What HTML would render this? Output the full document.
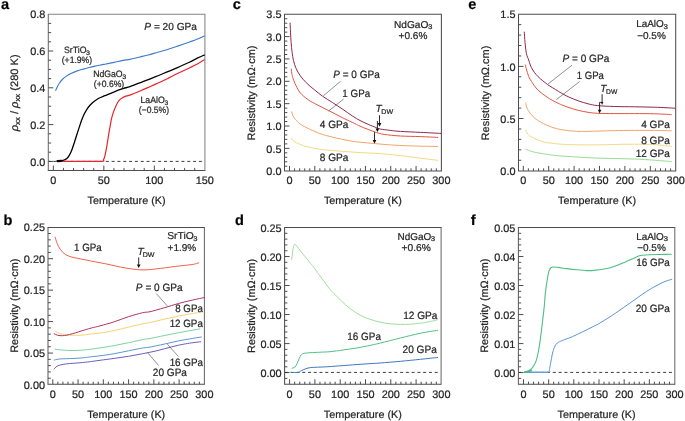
<!DOCTYPE html><html><head><meta charset="utf-8"><style>html,body{margin:0;padding:0;background:#fff}svg{display:block;will-change:transform}text{-webkit-font-smoothing:antialiased;stroke:#262626;stroke-width:.22px;stroke-linejoin:round}</style></head><body><svg xmlns="http://www.w3.org/2000/svg" width="685" height="421" viewBox="0 0 685 421" font-family='"Liberation Sans", sans-serif' fill="#262626" text-rendering="geometricPrecision">
<rect width="685" height="421" fill="#fff"/>
<path d="M47.80 14.20L205.40 14.20" stroke="#858585" stroke-width="1.05"/>
<path d="M47.80 170.50L205.40 170.50" stroke="#4d4d4d" stroke-width="1.05"/>
<path d="M48.30 14.20L48.30 170.50" stroke="#6a6a6a" stroke-width="1.05"/>
<path d="M204.90 14.20L204.90 170.50" stroke="#808080" stroke-width="1.05"/>
<path d="M63.45 170.50v-2.6M73.54 170.50v-2.6M83.64 170.50v-2.6M93.74 170.50v-2.6M113.93 170.50v-2.6M124.03 170.50v-2.6M134.13 170.50v-2.6M144.22 170.50v-2.6M164.42 170.50v-2.6M174.51 170.50v-2.6M184.61 170.50v-2.6M194.71 170.50v-2.6M53.35 170.50v-5M103.84 170.50v-5M154.32 170.50v-5M48.30 152.20h2.8M48.30 143.00h2.8M48.30 133.80h2.8M48.30 115.40h2.8M48.30 106.20h2.8M48.30 97.00h2.8M48.30 78.60h2.8M48.30 69.40h2.8M48.30 60.20h2.8M48.30 41.80h2.8M48.30 32.60h2.8M48.30 23.40h2.8M48.30 161.40h5M48.30 124.60h5M48.30 87.80h5M48.30 51.00h5" stroke="#4d4d4d" stroke-width="1" fill="none"/>
<text x="45.30" y="165.55" text-anchor="end" font-size="10.9">0.0</text>
<text x="45.30" y="128.75" text-anchor="end" font-size="10.9">0.2</text>
<text x="45.30" y="91.95" text-anchor="end" font-size="10.9">0.4</text>
<text x="45.30" y="55.15" text-anchor="end" font-size="10.9">0.6</text>
<text x="45.30" y="18.35" text-anchor="end" font-size="10.9">0.8</text>
<text x="53.35" y="184.00" text-anchor="middle" font-size="10.9">0</text>
<text x="103.84" y="184.00" text-anchor="middle" font-size="10.9">50</text>
<text x="154.32" y="184.00" text-anchor="middle" font-size="10.9">100</text>
<text x="204.81" y="184.00" text-anchor="middle" font-size="10.9">150</text>
<text x="126.60" y="204.00" text-anchor="middle" font-size="10.7" textLength="78" lengthAdjust="spacingAndGlyphs">Temperature (K)</text>
<path d="M47.50 227.40L204.90 227.40" stroke="#4d4d4d" stroke-width="1.05"/>
<path d="M47.50 384.30L204.90 384.30" stroke="#4d4d4d" stroke-width="1.05"/>
<path d="M48.00 227.40L48.00 384.30" stroke="#5e5e5e" stroke-width="1.05"/>
<path d="M204.40 227.40L204.40 384.30" stroke="#666666" stroke-width="1.05"/>
<path d="M57.85 384.30v-2.6M62.91 384.30v-2.6M67.96 384.30v-2.6M73.01 384.30v-2.6M83.12 384.30v-2.6M88.17 384.30v-2.6M93.22 384.30v-2.6M98.28 384.30v-2.6M108.38 384.30v-2.6M113.44 384.30v-2.6M118.49 384.30v-2.6M123.54 384.30v-2.6M133.65 384.30v-2.6M138.70 384.30v-2.6M143.75 384.30v-2.6M148.81 384.30v-2.6M158.91 384.30v-2.6M163.97 384.30v-2.6M169.02 384.30v-2.6M174.07 384.30v-2.6M184.18 384.30v-2.6M189.23 384.30v-2.6M194.28 384.30v-2.6M199.34 384.30v-2.6M52.80 384.30v-5M78.06 384.30v-5M103.33 384.30v-5M128.59 384.30v-5M153.86 384.30v-5M179.12 384.30v-5M48.00 378.21h2.8M48.00 371.92h2.8M48.00 365.63h2.8M48.00 359.34h2.8M48.00 346.76h2.8M48.00 340.47h2.8M48.00 334.18h2.8M48.00 327.89h2.8M48.00 315.31h2.8M48.00 309.02h2.8M48.00 302.73h2.8M48.00 296.44h2.8M48.00 283.86h2.8M48.00 277.57h2.8M48.00 271.28h2.8M48.00 264.99h2.8M48.00 252.41h2.8M48.00 246.12h2.8M48.00 239.83h2.8M48.00 233.54h2.8M48.00 353.05h5M48.00 321.60h5M48.00 290.15h5M48.00 258.70h5" stroke="#4d4d4d" stroke-width="1" fill="none"/>
<text x="45.00" y="388.65" text-anchor="end" font-size="10.9">0.00</text>
<text x="45.00" y="357.20" text-anchor="end" font-size="10.9">0.05</text>
<text x="45.00" y="325.75" text-anchor="end" font-size="10.9">0.10</text>
<text x="45.00" y="294.30" text-anchor="end" font-size="10.9">0.15</text>
<text x="45.00" y="262.85" text-anchor="end" font-size="10.9">0.20</text>
<text x="45.00" y="231.40" text-anchor="end" font-size="10.9">0.25</text>
<text x="52.80" y="397.60" text-anchor="middle" font-size="10.9">0</text>
<text x="78.06" y="397.60" text-anchor="middle" font-size="10.9">50</text>
<text x="103.33" y="397.60" text-anchor="middle" font-size="10.9">100</text>
<text x="128.59" y="397.60" text-anchor="middle" font-size="10.9">150</text>
<text x="153.86" y="397.60" text-anchor="middle" font-size="10.9">200</text>
<text x="179.12" y="397.60" text-anchor="middle" font-size="10.9">250</text>
<text x="204.39" y="397.60" text-anchor="middle" font-size="10.9">300</text>
<text x="126.20" y="417.60" text-anchor="middle" font-size="10.7" textLength="78" lengthAdjust="spacingAndGlyphs">Temperature (K)</text>
<path d="M284.00 14.20L441.90 14.20" stroke="#4d4d4d" stroke-width="1.05"/>
<path d="M284.00 170.95L441.90 170.95" stroke="#4d4d4d" stroke-width="1.05"/>
<path d="M284.50 14.20L284.50 170.95" stroke="#4d4d4d" stroke-width="1.05"/>
<path d="M441.40 14.20L441.40 170.95" stroke="#4d4d4d" stroke-width="1.05"/>
<path d="M294.56 170.95v-2.6M299.63 170.95v-2.6M304.69 170.95v-2.6M309.75 170.95v-2.6M319.88 170.95v-2.6M324.94 170.95v-2.6M330.00 170.95v-2.6M335.07 170.95v-2.6M345.19 170.95v-2.6M350.26 170.95v-2.6M355.32 170.95v-2.6M360.38 170.95v-2.6M370.51 170.95v-2.6M375.57 170.95v-2.6M380.63 170.95v-2.6M385.70 170.95v-2.6M395.82 170.95v-2.6M400.89 170.95v-2.6M405.95 170.95v-2.6M411.01 170.95v-2.6M421.14 170.95v-2.6M426.20 170.95v-2.6M431.26 170.95v-2.6M436.33 170.95v-2.6M289.50 170.95v-5M314.81 170.95v-5M340.13 170.95v-5M365.44 170.95v-5M390.76 170.95v-5M416.07 170.95v-5M284.50 166.23h2.8M284.50 161.76h2.8M284.50 157.29h2.8M284.50 152.82h2.8M284.50 143.88h2.8M284.50 139.41h2.8M284.50 134.94h2.8M284.50 130.47h2.8M284.50 121.53h2.8M284.50 117.06h2.8M284.50 112.59h2.8M284.50 108.12h2.8M284.50 99.18h2.8M284.50 94.71h2.8M284.50 90.24h2.8M284.50 85.77h2.8M284.50 76.83h2.8M284.50 72.36h2.8M284.50 67.89h2.8M284.50 63.42h2.8M284.50 54.48h2.8M284.50 50.01h2.8M284.50 45.54h2.8M284.50 41.07h2.8M284.50 32.13h2.8M284.50 27.66h2.8M284.50 23.19h2.8M284.50 18.72h2.8M284.50 148.35h5M284.50 126.00h5M284.50 103.65h5M284.50 81.30h5M284.50 58.95h5M284.50 36.60h5" stroke="#4d4d4d" stroke-width="1" fill="none"/>
<text x="281.50" y="174.85" text-anchor="end" font-size="10.9">0.0</text>
<text x="281.50" y="152.50" text-anchor="end" font-size="10.9">0.5</text>
<text x="281.50" y="130.15" text-anchor="end" font-size="10.9">1.0</text>
<text x="281.50" y="107.80" text-anchor="end" font-size="10.9">1.5</text>
<text x="281.50" y="85.45" text-anchor="end" font-size="10.9">2.0</text>
<text x="281.50" y="63.10" text-anchor="end" font-size="10.9">2.5</text>
<text x="281.50" y="40.75" text-anchor="end" font-size="10.9">3.0</text>
<text x="281.50" y="18.40" text-anchor="end" font-size="10.9">3.5</text>
<text x="289.50" y="184.00" text-anchor="middle" font-size="10.9">0</text>
<text x="314.81" y="184.00" text-anchor="middle" font-size="10.9">50</text>
<text x="340.13" y="184.00" text-anchor="middle" font-size="10.9">100</text>
<text x="365.44" y="184.00" text-anchor="middle" font-size="10.9">150</text>
<text x="390.76" y="184.00" text-anchor="middle" font-size="10.9">200</text>
<text x="416.07" y="184.00" text-anchor="middle" font-size="10.9">250</text>
<text x="441.39" y="184.00" text-anchor="middle" font-size="10.9">300</text>
<text x="362.95" y="204.00" text-anchor="middle" font-size="10.7" textLength="78" lengthAdjust="spacingAndGlyphs">Temperature (K)</text>
<path d="M284.10 227.50L441.60 227.50" stroke="#4d4d4d" stroke-width="1.05"/>
<path d="M284.10 384.30L441.60 384.30" stroke="#4d4d4d" stroke-width="1.05"/>
<path d="M284.60 227.50L284.60 384.30" stroke="#4d4d4d" stroke-width="1.05"/>
<path d="M441.10 227.50L441.10 384.30" stroke="#6a6a6a" stroke-width="1.05"/>
<path d="M294.66 384.30v-2.6M299.72 384.30v-2.6M304.78 384.30v-2.6M309.84 384.30v-2.6M319.96 384.30v-2.6M325.02 384.30v-2.6M330.08 384.30v-2.6M335.14 384.30v-2.6M345.26 384.30v-2.6M350.32 384.30v-2.6M355.38 384.30v-2.6M360.44 384.30v-2.6M370.56 384.30v-2.6M375.62 384.30v-2.6M380.68 384.30v-2.6M385.74 384.30v-2.6M395.86 384.30v-2.6M400.92 384.30v-2.6M405.98 384.30v-2.6M411.04 384.30v-2.6M421.16 384.30v-2.6M426.22 384.30v-2.6M431.28 384.30v-2.6M436.34 384.30v-2.6M289.60 384.30v-5M314.90 384.30v-5M340.20 384.30v-5M365.50 384.30v-5M390.80 384.30v-5M416.10 384.30v-5M284.60 378.40h2.8M284.60 366.80h2.8M284.60 360.99h2.8M284.60 355.19h2.8M284.60 349.38h2.8M284.60 337.78h2.8M284.60 331.97h2.8M284.60 326.17h2.8M284.60 320.36h2.8M284.60 308.76h2.8M284.60 302.95h2.8M284.60 297.15h2.8M284.60 291.34h2.8M284.60 279.74h2.8M284.60 273.93h2.8M284.60 268.13h2.8M284.60 262.32h2.8M284.60 250.72h2.8M284.60 244.91h2.8M284.60 239.11h2.8M284.60 233.30h2.8M284.60 372.60h5M284.60 343.58h5M284.60 314.56h5M284.60 285.54h5M284.60 256.52h5" stroke="#4d4d4d" stroke-width="1" fill="none"/>
<text x="281.60" y="376.75" text-anchor="end" font-size="10.9">0.00</text>
<text x="281.60" y="347.73" text-anchor="end" font-size="10.9">0.05</text>
<text x="281.60" y="318.71" text-anchor="end" font-size="10.9">0.10</text>
<text x="281.60" y="289.69" text-anchor="end" font-size="10.9">0.15</text>
<text x="281.60" y="260.67" text-anchor="end" font-size="10.9">0.20</text>
<text x="281.60" y="231.65" text-anchor="end" font-size="10.9">0.25</text>
<text x="289.60" y="397.60" text-anchor="middle" font-size="10.9">0</text>
<text x="314.90" y="397.60" text-anchor="middle" font-size="10.9">50</text>
<text x="340.20" y="397.60" text-anchor="middle" font-size="10.9">100</text>
<text x="365.50" y="397.60" text-anchor="middle" font-size="10.9">150</text>
<text x="390.80" y="397.60" text-anchor="middle" font-size="10.9">200</text>
<text x="416.10" y="397.60" text-anchor="middle" font-size="10.9">250</text>
<text x="441.40" y="397.60" text-anchor="middle" font-size="10.9">300</text>
<text x="362.85" y="417.60" text-anchor="middle" font-size="10.7" textLength="78" lengthAdjust="spacingAndGlyphs">Temperature (K)</text>
<path d="M518.00 14.20L676.20 14.20" stroke="#4d4d4d" stroke-width="1.05"/>
<path d="M518.00 170.95L676.20 170.95" stroke="#4d4d4d" stroke-width="1.05"/>
<path d="M518.50 14.20L518.50 170.95" stroke="#4d4d4d" stroke-width="1.05"/>
<path d="M675.70 14.20L675.70 170.95" stroke="#4d4d4d" stroke-width="1.05"/>
<path d="M528.38 170.95v-2.6M533.46 170.95v-2.6M538.54 170.95v-2.6M543.62 170.95v-2.6M553.78 170.95v-2.6M558.86 170.95v-2.6M563.94 170.95v-2.6M569.02 170.95v-2.6M579.18 170.95v-2.6M584.26 170.95v-2.6M589.34 170.95v-2.6M594.42 170.95v-2.6M604.58 170.95v-2.6M609.66 170.95v-2.6M614.74 170.95v-2.6M619.82 170.95v-2.6M629.98 170.95v-2.6M635.06 170.95v-2.6M640.14 170.95v-2.6M645.22 170.95v-2.6M655.38 170.95v-2.6M660.46 170.95v-2.6M665.54 170.95v-2.6M670.62 170.95v-2.6M523.30 170.95v-5M548.70 170.95v-5M574.10 170.95v-5M599.50 170.95v-5M624.90 170.95v-5M650.30 170.95v-5M518.50 160.27h2.8M518.50 149.83h2.8M518.50 139.40h2.8M518.50 128.97h2.8M518.50 108.10h2.8M518.50 97.67h2.8M518.50 87.24h2.8M518.50 76.80h2.8M518.50 55.94h2.8M518.50 45.50h2.8M518.50 35.07h2.8M518.50 24.64h2.8M518.50 118.53h5M518.50 66.37h5" stroke="#4d4d4d" stroke-width="1" fill="none"/>
<text x="515.50" y="174.85" text-anchor="end" font-size="10.9">0.0</text>
<text x="515.50" y="122.69" text-anchor="end" font-size="10.9">0.5</text>
<text x="515.50" y="70.52" text-anchor="end" font-size="10.9">1.0</text>
<text x="515.50" y="18.36" text-anchor="end" font-size="10.9">1.5</text>
<text x="523.30" y="184.00" text-anchor="middle" font-size="10.9">0</text>
<text x="548.70" y="184.00" text-anchor="middle" font-size="10.9">50</text>
<text x="574.10" y="184.00" text-anchor="middle" font-size="10.9">100</text>
<text x="599.50" y="184.00" text-anchor="middle" font-size="10.9">150</text>
<text x="624.90" y="184.00" text-anchor="middle" font-size="10.9">200</text>
<text x="650.30" y="184.00" text-anchor="middle" font-size="10.9">250</text>
<text x="675.70" y="184.00" text-anchor="middle" font-size="10.9">300</text>
<text x="597.10" y="204.00" text-anchor="middle" font-size="10.7" textLength="78" lengthAdjust="spacingAndGlyphs">Temperature (K)</text>
<path d="M517.90 227.50L675.30 227.50" stroke="#4d4d4d" stroke-width="1.05"/>
<path d="M517.90 384.30L675.30 384.30" stroke="#4d4d4d" stroke-width="1.05"/>
<path d="M518.40 227.50L518.40 384.30" stroke="#5e5e5e" stroke-width="1.05"/>
<path d="M674.80 227.50L674.80 384.30" stroke="#6a6a6a" stroke-width="1.05"/>
<path d="M528.53 384.30v-2.6M533.57 384.30v-2.6M538.60 384.30v-2.6M543.64 384.30v-2.6M553.70 384.30v-2.6M558.74 384.30v-2.6M563.77 384.30v-2.6M568.81 384.30v-2.6M578.87 384.30v-2.6M583.91 384.30v-2.6M588.94 384.30v-2.6M593.98 384.30v-2.6M604.04 384.30v-2.6M609.08 384.30v-2.6M614.11 384.30v-2.6M619.15 384.30v-2.6M629.21 384.30v-2.6M634.25 384.30v-2.6M639.28 384.30v-2.6M644.32 384.30v-2.6M654.38 384.30v-2.6M659.42 384.30v-2.6M664.45 384.30v-2.6M669.49 384.30v-2.6M523.50 384.30v-5M548.67 384.30v-5M573.84 384.30v-5M599.01 384.30v-5M624.18 384.30v-5M649.35 384.30v-5M518.40 378.40h2.8M518.40 366.80h2.8M518.40 360.99h2.8M518.40 355.19h2.8M518.40 349.38h2.8M518.40 337.78h2.8M518.40 331.97h2.8M518.40 326.17h2.8M518.40 320.36h2.8M518.40 308.76h2.8M518.40 302.95h2.8M518.40 297.15h2.8M518.40 291.34h2.8M518.40 279.74h2.8M518.40 273.93h2.8M518.40 268.13h2.8M518.40 262.32h2.8M518.40 250.72h2.8M518.40 244.91h2.8M518.40 239.11h2.8M518.40 233.30h2.8M518.40 372.60h5M518.40 343.58h5M518.40 314.56h5M518.40 285.54h5M518.40 256.52h5" stroke="#4d4d4d" stroke-width="1" fill="none"/>
<text x="515.40" y="376.75" text-anchor="end" font-size="10.9">0.00</text>
<text x="515.40" y="347.73" text-anchor="end" font-size="10.9">0.01</text>
<text x="515.40" y="318.71" text-anchor="end" font-size="10.9">0.02</text>
<text x="515.40" y="289.69" text-anchor="end" font-size="10.9">0.03</text>
<text x="515.40" y="260.67" text-anchor="end" font-size="10.9">0.04</text>
<text x="515.40" y="231.65" text-anchor="end" font-size="10.9">0.05</text>
<text x="523.50" y="397.60" text-anchor="middle" font-size="10.9">0</text>
<text x="548.67" y="397.60" text-anchor="middle" font-size="10.9">50</text>
<text x="573.84" y="397.60" text-anchor="middle" font-size="10.9">100</text>
<text x="599.01" y="397.60" text-anchor="middle" font-size="10.9">150</text>
<text x="624.18" y="397.60" text-anchor="middle" font-size="10.9">200</text>
<text x="649.35" y="397.60" text-anchor="middle" font-size="10.9">250</text>
<text x="674.52" y="397.60" text-anchor="middle" font-size="10.9">300</text>
<text x="596.60" y="417.60" text-anchor="middle" font-size="10.7" textLength="78" lengthAdjust="spacingAndGlyphs">Temperature (K)</text>
<path d="M48.8 161.4H204.2" stroke="#333" stroke-width="0.95" stroke-dasharray="3.0 2.82" stroke-dashoffset="1.2" fill="none"/>
<path d="M285.1 372.4H438.4" stroke="#333" stroke-width="0.95" stroke-dasharray="3.0 2.76" stroke-dashoffset="0.18" fill="none"/>
<path d="M518.9 372.4H672.2" stroke="#333" stroke-width="0.95" stroke-dasharray="3.0 2.805" stroke-dashoffset="0.93" fill="none"/>
<path d="M57.6 161.1L61.5 160.9" stroke="#000" stroke-width="2.4" stroke-linecap="round"/>
<path d="M524.6 372.3H548.2" stroke="#86b4df" stroke-width="1.25"/>
<path d="M525.6 372.0Q528.5 371.8 531.0 370.4" stroke="#4cbf85" stroke-width="2.0" fill="none" stroke-linecap="round"/>
<path d="M55.70 90.30C56.02 89.63 56.97 87.52 57.60 86.30C58.23 85.08 58.72 84.13 59.50 83.00C60.28 81.87 61.20 80.60 62.30 79.50C63.40 78.40 64.67 77.40 66.10 76.40C67.53 75.40 69.15 74.38 70.90 73.50C72.65 72.62 74.55 71.83 76.60 71.10C78.65 70.37 80.98 69.73 83.20 69.10C85.42 68.47 87.93 67.80 89.90 67.30C91.87 66.80 92.65 66.58 95.00 66.10C97.35 65.62 100.83 65.02 104.00 64.40C107.17 63.78 110.83 63.07 114.00 62.40C117.17 61.73 120.33 60.90 123.00 60.40C125.67 59.90 127.33 59.93 130.00 59.40C132.67 58.87 135.97 57.93 139.00 57.20C142.03 56.47 145.28 55.75 148.20 55.00C151.12 54.25 153.70 53.48 156.50 52.70C159.30 51.92 161.60 51.35 165.00 50.30C168.40 49.25 172.93 47.73 176.90 46.40C180.87 45.07 185.23 43.57 188.80 42.30C192.37 41.03 195.73 39.83 198.30 38.80C200.87 37.77 203.22 36.55 204.20 36.10" stroke="#3d7cc9" stroke-width="1.15" fill="none" stroke-linejoin="round" stroke-linecap="round"/>
<path d="M62.00 161.30C65.00 161.30 73.40 161.30 80.00 161.30C86.60 161.30 97.68 161.57 101.60 161.30C105.52 161.03 103.02 160.37 103.50 159.70C103.98 159.03 104.18 158.33 104.50 157.30C104.82 156.27 105.08 154.93 105.40 153.50C105.72 152.07 106.08 150.45 106.40 148.70C106.72 146.95 106.98 144.90 107.30 143.00C107.62 141.10 107.98 139.27 108.30 137.30C108.62 135.33 108.88 133.08 109.20 131.20C109.52 129.32 109.83 128.00 110.20 126.00C110.57 124.00 110.88 121.43 111.40 119.20C111.92 116.97 112.58 114.73 113.30 112.60C114.02 110.47 114.83 108.30 115.70 106.40C116.57 104.50 117.38 102.63 118.50 101.20C119.62 99.77 121.05 98.68 122.40 97.80C123.75 96.92 125.25 96.38 126.60 95.90C127.95 95.42 128.15 95.75 130.50 94.90C132.85 94.05 137.22 92.28 140.70 90.80C144.18 89.32 147.83 87.60 151.40 86.00C154.97 84.40 159.03 82.63 162.10 81.20C165.17 79.77 167.33 78.63 169.80 77.40C172.27 76.17 173.73 75.33 176.90 73.80C180.07 72.27 185.23 69.92 188.80 68.20C192.37 66.48 196.33 64.55 198.30 63.50C200.27 62.45 199.62 62.52 200.60 61.90C201.58 61.28 203.60 60.15 204.20 59.80" stroke="#e8232b" stroke-width="1.2" fill="none" stroke-linejoin="round" stroke-linecap="round"/>
<path d="M57.40 161.10C57.95 161.08 59.60 161.18 60.70 161.00C61.80 160.82 62.97 160.42 64.00 160.00C65.03 159.58 66.02 159.27 66.90 158.50C67.78 157.73 68.58 156.55 69.30 155.40C70.02 154.25 70.65 152.87 71.20 151.60C71.75 150.33 72.13 149.15 72.60 147.80C73.07 146.45 73.53 144.92 74.00 143.50C74.47 142.08 74.95 140.72 75.40 139.30C75.85 137.88 76.07 136.98 76.70 135.00C77.33 133.02 78.42 129.77 79.20 127.40C79.98 125.03 80.60 122.95 81.40 120.80C82.20 118.65 83.08 116.42 84.00 114.50C84.92 112.58 85.87 110.88 86.90 109.30C87.93 107.72 89.02 106.30 90.20 105.00C91.38 103.70 92.57 102.62 94.00 101.50C95.43 100.38 97.00 99.27 98.80 98.30C100.60 97.33 103.02 96.45 104.80 95.70C106.58 94.95 107.92 94.45 109.50 93.80C111.08 93.15 112.72 92.45 114.30 91.80C115.88 91.15 117.42 90.48 119.00 89.90C120.58 89.32 121.97 88.85 123.80 88.30C125.63 87.75 127.18 87.55 130.00 86.60C132.82 85.65 137.13 83.98 140.70 82.60C144.27 81.22 147.83 79.73 151.40 78.30C154.97 76.87 157.85 75.75 162.10 74.00C166.35 72.25 172.45 69.72 176.90 67.80C181.35 65.88 185.23 64.18 188.80 62.50C192.37 60.82 195.73 58.93 198.30 57.70C200.87 56.47 203.22 55.53 204.20 55.10" stroke="#000000" stroke-width="1.3" fill="none" stroke-linejoin="round" stroke-linecap="round"/>
<path d="M55.10 237.10C55.43 238.12 56.27 241.18 57.10 243.20C57.93 245.22 58.75 247.35 60.10 249.20C61.45 251.05 63.35 253.02 65.20 254.30C67.05 255.58 69.18 256.23 71.20 256.90C73.22 257.57 74.93 257.80 77.30 258.30C79.67 258.80 82.37 259.30 85.40 259.90C88.43 260.50 92.13 261.25 95.50 261.90C98.87 262.55 102.23 263.12 105.60 263.80C108.97 264.48 112.47 265.32 115.70 266.00C118.93 266.68 122.10 267.38 125.00 267.90C127.90 268.42 130.75 268.78 133.10 269.10C135.45 269.42 136.75 269.68 139.10 269.80C141.45 269.92 144.50 269.93 147.20 269.80C149.90 269.67 152.27 269.33 155.30 269.00C158.33 268.67 162.03 268.23 165.40 267.80C168.77 267.37 172.13 266.82 175.50 266.40C178.87 265.98 182.58 265.65 185.60 265.30C188.62 264.95 191.42 264.72 193.60 264.30C195.78 263.88 197.85 263.05 198.70 262.80" stroke="#ec644c" stroke-width="1.0" fill="none" stroke-linejoin="round" stroke-linecap="round"/>
<path d="M54.20 369.00C54.48 368.67 55.08 367.62 55.90 367.00C56.72 366.38 57.90 365.73 59.10 365.30C60.30 364.87 61.35 364.70 63.10 364.40C64.85 364.10 67.43 363.72 69.60 363.50C71.77 363.28 73.93 363.27 76.10 363.10C78.27 362.93 80.42 362.72 82.60 362.50C84.78 362.28 86.30 362.17 89.20 361.80C92.10 361.43 95.83 360.87 100.00 360.30C104.17 359.73 109.45 359.07 114.20 358.40C118.95 357.73 123.75 357.08 128.50 356.30C133.25 355.52 137.93 354.63 142.70 353.70C147.47 352.77 152.32 351.83 157.10 350.70C161.88 349.57 166.65 348.05 171.40 346.90C176.15 345.75 180.73 344.67 185.60 343.80C190.47 342.93 198.10 342.05 200.60 341.70" stroke="#6f5cbf" stroke-width="1.0" fill="none" stroke-linejoin="round" stroke-linecap="round"/>
<path d="M54.20 360.10C54.80 359.95 56.32 359.42 57.80 359.20C59.28 358.98 61.13 358.90 63.10 358.80C65.07 358.70 67.43 358.68 69.60 358.60C71.77 358.52 73.93 358.42 76.10 358.30C78.27 358.18 80.42 358.12 82.60 357.90C84.78 357.68 86.30 357.35 89.20 357.00C92.10 356.65 95.83 356.35 100.00 355.80C104.17 355.25 109.45 354.53 114.20 353.70C118.95 352.87 123.75 351.75 128.50 350.80C133.25 349.85 139.12 348.62 142.70 348.00C146.28 347.38 146.42 347.75 150.00 347.10C153.58 346.45 159.45 345.13 164.20 344.10C168.95 343.07 173.75 341.85 178.50 340.90C183.25 339.95 188.90 339.05 192.70 338.40C196.50 337.75 199.87 337.23 201.30 337.00" stroke="#5a97d2" stroke-width="1.0" fill="none" stroke-linejoin="round" stroke-linecap="round"/>
<path d="M55.20 349.20C56.52 349.35 60.70 349.88 63.10 350.10C65.50 350.32 67.43 350.43 69.60 350.50C71.77 350.57 73.93 350.57 76.10 350.50C78.27 350.43 80.42 350.28 82.60 350.10C84.78 349.92 86.30 349.77 89.20 349.40C92.10 349.03 95.83 348.53 100.00 347.90C104.17 347.27 109.45 346.47 114.20 345.60C118.95 344.73 123.75 343.70 128.50 342.70C133.25 341.70 139.12 340.30 142.70 339.60C146.28 338.90 146.42 339.17 150.00 338.50C153.58 337.83 159.45 336.57 164.20 335.60C168.95 334.63 173.75 333.60 178.50 332.70C183.25 331.80 189.13 330.83 192.70 330.20C196.27 329.57 198.70 329.12 199.90 328.90" stroke="#7dd2a2" stroke-width="1.0" fill="none" stroke-linejoin="round" stroke-linecap="round"/>
<path d="M55.00 330.90C55.47 331.20 56.45 332.12 57.80 332.70C59.15 333.28 61.13 334.00 63.10 334.40C65.07 334.80 67.43 334.95 69.60 335.10C71.77 335.25 73.93 335.30 76.10 335.30C78.27 335.30 80.42 335.28 82.60 335.10C84.78 334.92 86.30 334.53 89.20 334.20C92.10 333.87 95.83 333.70 100.00 333.10C104.17 332.50 109.45 331.60 114.20 330.60C118.95 329.60 123.75 328.23 128.50 327.10C133.25 325.97 139.12 324.57 142.70 323.80C146.28 323.03 146.42 323.27 150.00 322.50C153.58 321.73 159.45 320.27 164.20 319.20C168.95 318.13 173.75 317.05 178.50 316.10C183.25 315.15 189.02 314.12 192.70 313.50C196.38 312.88 199.28 312.58 200.60 312.40" stroke="#f1d473" stroke-width="1.0" fill="none" stroke-linejoin="round" stroke-linecap="round"/>
<path d="M54.20 333.80C54.80 334.05 56.43 334.98 57.80 335.30C59.17 335.62 60.87 335.73 62.40 335.70C63.93 335.67 65.37 335.42 67.00 335.10C68.63 334.78 70.25 334.35 72.20 333.80C74.15 333.25 76.53 332.47 78.70 331.80C80.87 331.13 83.02 330.45 85.20 329.80C87.38 329.15 89.33 328.55 91.80 327.90C94.27 327.25 96.27 326.92 100.00 325.90C103.73 324.88 109.45 323.33 114.20 321.80C118.95 320.27 123.75 318.22 128.50 316.70C133.25 315.18 139.12 313.53 142.70 312.70C146.28 311.87 146.42 312.52 150.00 311.70C153.58 310.88 159.45 309.17 164.20 307.80C168.95 306.43 173.75 304.80 178.50 303.50C183.25 302.20 188.35 301.00 192.70 300.00C197.05 299.00 202.62 297.92 204.60 297.50" stroke="#b03565" stroke-width="1.0" fill="none" stroke-linejoin="round" stroke-linecap="round"/>
<path d="M291.10 138.10C291.60 138.67 292.92 140.60 294.10 141.50C295.28 142.40 296.18 142.67 298.20 143.50C300.22 144.33 302.17 145.48 306.20 146.50C310.23 147.52 316.33 148.80 322.40 149.60C328.47 150.40 336.33 150.80 342.60 151.30C348.87 151.80 353.73 152.22 360.00 152.60C366.27 152.98 373.47 153.10 380.20 153.60C386.93 154.10 393.67 154.83 400.40 155.60C407.13 156.37 414.38 157.42 420.60 158.20C426.82 158.98 434.85 159.95 437.70 160.30" stroke="#f2da84" stroke-width="1.0" fill="none" stroke-linejoin="round" stroke-linecap="round"/>
<path d="M291.70 111.80C291.93 112.53 292.37 114.78 293.10 116.20C293.83 117.62 294.58 118.78 296.10 120.30C297.62 121.82 299.50 123.62 302.20 125.30C304.90 126.98 308.93 128.88 312.30 130.40C315.67 131.92 318.37 133.12 322.40 134.40C326.43 135.68 331.45 136.95 336.50 138.10C341.55 139.25 348.78 140.62 352.70 141.30C356.62 141.98 356.43 141.83 360.00 142.20C363.57 142.57 369.05 143.05 374.10 143.50C379.15 143.95 384.23 144.50 390.30 144.90C396.37 145.30 402.60 145.63 410.50 145.90C418.40 146.17 433.17 146.40 437.70 146.50" stroke="#f3a468" stroke-width="1.0" fill="none" stroke-linejoin="round" stroke-linecap="round"/>
<path d="M291.30 69.10C291.42 70.00 291.70 72.93 292.00 74.50C292.30 76.07 292.43 76.65 293.10 78.50C293.77 80.35 294.82 83.22 296.00 85.60C297.18 87.98 298.30 90.53 300.20 92.80C302.10 95.07 305.02 97.43 307.40 99.20C309.78 100.97 310.95 101.50 314.50 103.40C318.05 105.30 324.02 108.20 328.70 110.60C333.38 113.00 338.27 115.65 342.60 117.80C346.93 119.95 351.80 122.10 354.70 123.50C357.60 124.90 357.77 125.22 360.00 126.20C362.23 127.18 365.40 128.37 368.10 129.40C370.80 130.43 373.52 131.57 376.20 132.40C378.88 133.23 380.17 133.80 384.20 134.40C388.23 135.00 394.33 135.63 400.40 136.00C406.47 136.37 414.38 136.37 420.60 136.60C426.82 136.83 434.85 137.27 437.70 137.40" stroke="#e4533f" stroke-width="1.0" fill="none" stroke-linejoin="round" stroke-linecap="round"/>
<path d="M290.10 23.10C290.17 24.62 290.33 29.00 290.50 32.20C290.67 35.40 290.83 38.93 291.10 42.30C291.37 45.67 291.70 49.37 292.10 52.40C292.50 55.43 292.83 57.82 293.50 60.50C294.17 63.18 294.98 65.98 296.10 68.50C297.22 71.02 298.52 73.23 300.20 75.60C301.88 77.97 303.85 80.35 306.20 82.70C308.55 85.05 311.60 87.47 314.30 89.70C317.00 91.93 319.37 93.97 322.40 96.10C325.43 98.23 329.13 100.32 332.50 102.50C335.87 104.68 339.23 106.92 342.60 109.20C345.97 111.48 349.80 114.32 352.70 116.20C355.60 118.08 357.43 119.15 360.00 120.50C362.57 121.85 365.40 123.12 368.10 124.30C370.80 125.48 374.18 126.82 376.20 127.60C378.22 128.38 377.85 128.53 380.20 129.00C382.55 129.47 386.93 130.00 390.30 130.40C393.67 130.80 395.35 131.07 400.40 131.40C405.45 131.73 413.87 132.07 420.60 132.40C427.33 132.73 437.43 133.23 440.80 133.40" stroke="#8e2a48" stroke-width="1.0" fill="none" stroke-linejoin="round" stroke-linecap="round"/>
<path d="M291.10 372.40C292.28 372.40 296.50 372.68 298.20 372.40C299.90 372.12 300.02 371.32 301.30 370.70C302.58 370.08 304.38 369.22 305.90 368.70C307.42 368.18 308.45 367.85 310.40 367.60C312.35 367.35 314.90 367.33 317.60 367.20C320.30 367.07 323.53 366.98 326.60 366.80C329.67 366.62 333.25 366.30 336.00 366.10C338.75 365.90 339.75 365.85 343.10 365.60C346.45 365.35 351.75 364.92 356.10 364.60C360.45 364.28 365.18 363.97 369.20 363.70C373.22 363.43 375.00 363.40 380.20 363.00C385.40 362.60 393.67 361.92 400.40 361.30C407.13 360.68 414.38 359.93 420.60 359.30C426.82 358.67 434.85 357.80 437.70 357.50" stroke="#3f78c0" stroke-width="1.0" fill="none" stroke-linejoin="round" stroke-linecap="round"/>
<path d="M292.10 368.20C292.60 368.00 294.27 367.77 295.10 367.00C295.93 366.23 296.42 365.00 297.10 363.60C297.78 362.20 298.52 360.05 299.20 358.60C299.88 357.15 300.37 355.78 301.20 354.90C302.03 354.02 302.35 353.68 304.20 353.30C306.05 352.92 309.27 352.80 312.30 352.60C315.33 352.40 319.45 352.25 322.40 352.10C325.35 351.95 326.55 352.05 330.00 351.70C333.45 351.35 338.75 350.60 343.10 350.00C347.45 349.40 351.75 348.83 356.10 348.10C360.45 347.37 365.18 346.43 369.20 345.60C373.22 344.77 375.00 344.37 380.20 343.10C385.40 341.83 393.67 339.65 400.40 338.00C407.13 336.35 414.38 334.48 420.60 333.20C426.82 331.92 434.85 330.78 437.70 330.30" stroke="#52bf88" stroke-width="1.0" fill="none" stroke-linejoin="round" stroke-linecap="round"/>
<path d="M291.60 259.40C291.72 258.68 292.10 256.53 292.30 255.10C292.50 253.67 292.60 252.22 292.80 250.80C293.00 249.38 293.20 247.67 293.50 246.60C293.80 245.53 294.25 244.73 294.60 244.40C294.95 244.07 295.13 244.18 295.60 244.60C296.07 245.02 296.62 245.87 297.40 246.90C298.18 247.93 299.23 249.43 300.30 250.80C301.37 252.17 302.60 253.63 303.80 255.10C305.00 256.57 306.32 258.15 307.50 259.60C308.68 261.05 309.85 262.52 310.90 263.80C311.95 265.08 312.45 265.48 313.80 267.30C315.15 269.12 317.18 272.20 319.00 274.70C320.82 277.20 322.80 279.77 324.70 282.30C326.60 284.83 328.18 287.35 330.40 289.90C332.62 292.45 335.45 295.08 338.00 297.60C340.55 300.12 343.15 302.78 345.70 305.00C348.25 307.22 350.77 309.13 353.30 310.90C355.83 312.67 358.12 314.20 360.90 315.60C363.68 317.00 366.78 318.20 370.00 319.30C373.22 320.40 376.82 321.45 380.20 322.20C383.58 322.95 386.93 323.43 390.30 323.80C393.67 324.17 397.03 324.33 400.40 324.40C403.77 324.47 407.13 324.40 410.50 324.20C413.87 324.00 417.23 323.67 420.60 323.20C423.97 322.73 427.92 321.97 430.70 321.40C433.48 320.83 436.20 320.07 437.30 319.80" stroke="#a0df9c" stroke-width="1.0" fill="none" stroke-linejoin="round" stroke-linecap="round"/>
<path d="M525.70 149.20C526.78 149.60 529.45 150.87 532.20 151.60C534.95 152.33 538.17 152.93 542.20 153.60C546.23 154.27 550.67 155.03 556.40 155.60C562.13 156.17 570.33 156.60 576.60 157.00C582.87 157.40 587.73 157.75 594.00 158.00C600.27 158.25 607.47 158.33 614.20 158.50C620.93 158.67 627.67 158.72 634.40 159.00C641.13 159.28 648.45 159.77 654.60 160.20C660.75 160.63 668.52 161.37 671.30 161.60" stroke="#98dc96" stroke-width="1.0" fill="none" stroke-linejoin="round" stroke-linecap="round"/>
<path d="M525.70 130.40C526.10 131.07 527.02 133.23 528.10 134.40C529.18 135.57 530.18 136.32 532.20 137.40C534.22 138.48 537.18 139.95 540.20 140.90C543.22 141.85 545.92 142.50 550.30 143.10C554.68 143.70 560.43 144.20 566.50 144.50C572.57 144.80 580.95 144.85 586.70 144.90C592.45 144.95 596.42 144.87 601.00 144.80C605.58 144.73 608.63 144.60 614.20 144.50C619.77 144.40 627.67 144.18 634.40 144.20C641.13 144.22 648.45 144.25 654.60 144.60C660.75 144.95 668.52 146.02 671.30 146.30" stroke="#f2da84" stroke-width="1.0" fill="none" stroke-linejoin="round" stroke-linecap="round"/>
<path d="M525.70 103.10C525.93 103.95 526.37 106.52 527.10 108.20C527.83 109.88 528.58 111.35 530.10 113.20C531.62 115.05 533.50 117.33 536.20 119.30C538.90 121.27 542.93 123.45 546.30 125.00C549.67 126.55 553.03 127.70 556.40 128.60C559.77 129.50 563.13 129.95 566.50 130.40C569.87 130.85 573.23 131.13 576.60 131.30C579.97 131.47 582.63 131.45 586.70 131.40C590.77 131.35 596.42 131.13 601.00 131.00C605.58 130.87 608.63 130.70 614.20 130.60C619.77 130.50 627.67 130.43 634.40 130.40C641.13 130.37 648.45 130.33 654.60 130.40C660.75 130.47 668.52 130.73 671.30 130.80" stroke="#f3a468" stroke-width="1.0" fill="none" stroke-linejoin="round" stroke-linecap="round"/>
<path d="M525.30 65.00C525.52 65.83 526.12 68.33 526.60 70.00C527.08 71.67 527.73 73.67 528.20 75.00C528.67 76.33 528.83 76.90 529.40 78.00C529.97 79.10 530.77 80.30 531.60 81.60C532.43 82.90 533.33 84.38 534.40 85.80C535.47 87.22 536.68 88.78 538.00 90.10C539.32 91.42 540.77 92.52 542.30 93.70C543.83 94.88 545.55 96.10 547.20 97.20C548.85 98.30 550.40 99.30 552.20 100.30C554.00 101.30 556.47 102.47 558.00 103.20C559.53 103.93 559.57 103.97 561.40 104.70C563.23 105.43 566.15 106.65 569.00 107.60C571.85 108.55 575.33 109.62 578.50 110.40C581.67 111.18 584.83 111.82 588.00 112.30C591.17 112.78 593.13 113.08 597.50 113.30C601.87 113.52 608.05 113.55 614.20 113.60C620.35 113.65 627.67 113.57 634.40 113.60C641.13 113.63 648.45 113.63 654.60 113.80C660.75 113.97 668.52 114.47 671.30 114.60" stroke="#e4533f" stroke-width="1.0" fill="none" stroke-linejoin="round" stroke-linecap="round"/>
<path d="M524.30 32.10C524.42 33.77 524.65 38.53 525.00 42.10C525.35 45.67 525.78 50.52 526.40 53.50C527.02 56.48 528.05 58.08 528.70 60.00C529.35 61.92 529.62 63.33 530.30 65.00C530.98 66.67 531.83 68.42 532.80 70.00C533.77 71.58 534.85 73.05 536.10 74.50C537.35 75.95 538.77 77.32 540.30 78.70C541.83 80.08 543.68 81.55 545.30 82.80C546.92 84.05 548.27 85.07 550.00 86.20C551.73 87.33 553.80 88.43 555.70 89.60C557.60 90.77 559.18 91.95 561.40 93.20C563.62 94.45 566.15 95.82 569.00 97.10C571.85 98.38 575.33 99.78 578.50 100.90C581.67 102.02 584.83 103.02 588.00 103.80C591.17 104.58 593.13 105.15 597.50 105.60C601.87 106.05 608.05 106.30 614.20 106.50C620.35 106.70 627.67 106.68 634.40 106.80C641.13 106.92 647.87 106.97 654.60 107.20C661.33 107.43 671.43 108.03 674.80 108.20" stroke="#8e2a48" stroke-width="1.0" fill="none" stroke-linejoin="round" stroke-linecap="round"/>
<path d="M525.10 372.10C528.90 372.10 543.87 372.50 547.90 372.10C551.93 371.70 548.83 371.25 549.30 369.70C549.77 368.15 550.20 365.38 550.70 362.80C551.20 360.22 551.68 356.80 552.30 354.20C552.92 351.60 553.55 349.08 554.40 347.20C555.25 345.32 556.07 344.02 557.40 342.90C558.73 341.78 559.88 341.55 562.40 340.50C564.92 339.45 569.13 338.05 572.50 336.60C575.87 335.15 579.23 333.43 582.60 331.80C585.97 330.17 589.63 328.37 592.70 326.80C595.77 325.23 597.22 324.67 601.00 322.40C604.78 320.13 610.42 316.53 615.40 313.20C620.38 309.87 625.75 306.00 630.90 302.40C636.05 298.80 642.12 294.35 646.30 291.60C650.48 288.85 653.05 287.52 656.00 285.90C658.95 284.28 661.37 283.00 664.00 281.90C666.63 280.80 670.50 279.73 671.80 279.30" stroke="#5a96d2" stroke-width="1.0" fill="none" stroke-linejoin="round" stroke-linecap="round"/>
<path d="M525.10 372.10C525.60 371.95 527.10 371.70 528.10 371.20C529.10 370.70 530.08 370.13 531.10 369.10C532.12 368.07 533.35 366.42 534.20 365.00C535.05 363.58 535.53 362.68 536.20 360.60C536.87 358.52 537.53 355.87 538.20 352.50C538.87 349.13 539.53 345.12 540.20 340.40C540.87 335.68 541.52 329.92 542.20 324.20C542.88 318.48 543.78 311.20 544.30 306.10C544.82 301.00 544.80 298.03 545.30 293.60C545.80 289.17 546.70 283.20 547.30 279.50C547.90 275.80 548.33 273.32 548.90 271.40C549.47 269.48 549.95 268.73 550.70 268.00C551.45 267.27 552.12 267.10 553.40 267.00C554.68 266.90 556.22 267.13 558.40 267.40C560.58 267.67 563.47 268.20 566.50 268.60C569.53 269.00 573.23 269.47 576.60 269.80C579.97 270.13 583.80 270.50 586.70 270.60C589.60 270.70 591.10 270.67 594.00 270.40C596.90 270.13 600.73 269.67 604.10 269.00C607.47 268.33 610.83 267.50 614.20 266.40C617.57 265.30 620.93 263.82 624.30 262.40C627.67 260.98 631.72 259.05 634.40 257.90C637.08 256.75 637.72 256.03 640.40 255.50C643.08 254.97 647.13 254.87 650.50 254.70C653.87 254.53 657.13 254.57 660.60 254.50C664.07 254.43 669.52 254.33 671.30 254.30" stroke="#4cbf85" stroke-width="1.1" fill="none" stroke-linejoin="round" stroke-linecap="round"/>
<text x="144.35" y="29.90" font-size="10.2" textLength="52.60" lengthAdjust="spacingAndGlyphs"><tspan font-style="italic">P</tspan> = 20 GPa</text>
<text x="64.05" y="53.00" font-size="9.2" textLength="22.40" lengthAdjust="spacingAndGlyphs">SrTiO</text><text x="86.05" y="54.80" font-size="6.6" textLength="4.00" lengthAdjust="spacingAndGlyphs">3</text>
<text x="61.75" y="62.80" font-size="9.2" textLength="30.40" lengthAdjust="spacingAndGlyphs">(+1.9%)</text>
<text x="93.15" y="77.10" font-size="9.2" textLength="29.50" lengthAdjust="spacingAndGlyphs">NdGaO</text><text x="122.25" y="78.90" font-size="6.6" textLength="4.00" lengthAdjust="spacingAndGlyphs">3</text>
<text x="93.85" y="86.80" font-size="9.2" textLength="30.40" lengthAdjust="spacingAndGlyphs">(+0.6%)</text>
<text x="140.45" y="103.00" font-size="9.2" textLength="24.40" lengthAdjust="spacingAndGlyphs">LaAlO</text><text x="164.45" y="104.80" font-size="6.6" textLength="3.80" lengthAdjust="spacingAndGlyphs">3</text>
<text x="138.85" y="112.90" font-size="9.2" textLength="30.20" lengthAdjust="spacingAndGlyphs">(−0.5%)</text>
<text x="74.05" y="250.60" font-size="10.6" textLength="27.60" lengthAdjust="spacingAndGlyphs">1 GPa</text>
<text x="167.15" y="239.10" font-size="10.0" textLength="26.60" lengthAdjust="spacingAndGlyphs">SrTiO</text><text x="193.35" y="240.90" font-size="6.8" textLength="4.20" lengthAdjust="spacingAndGlyphs">3</text>
<text x="167.55" y="250.60" font-size="10.0" textLength="28.70" lengthAdjust="spacingAndGlyphs">+1.9%</text>
<text x="137.60" y="254.70" font-size="10.2" font-style="italic">T</text><text x="142.65" y="257.30" font-size="6.8" textLength="11.80" lengthAdjust="spacingAndGlyphs">DW</text>
<path d="M138.70 257.40V264.90" stroke="#111" stroke-width="0.9" fill="none"/><path d="M136.80 264.40L140.60 264.40L138.70 268.00Z" fill="#111"/>
<text x="135.85" y="290.60" font-size="10.6" textLength="46.80" lengthAdjust="spacingAndGlyphs"><tspan font-style="italic">P</tspan> = 0 GPa</text>
<path d="M156.30 293.60L167.20 305.80" stroke="#444" stroke-width="0.6" fill="none"/>
<text x="175.25" y="311.80" font-size="10.6" textLength="27.60" lengthAdjust="spacingAndGlyphs">8 GPa</text>
<text x="169.65" y="326.70" font-size="10.6" textLength="33.20" lengthAdjust="spacingAndGlyphs">12 GPa</text>
<text x="169.65" y="365.90" font-size="10.6" textLength="33.30" lengthAdjust="spacingAndGlyphs">16 GPa</text>
<text x="152.85" y="375.80" font-size="10.6" textLength="34.10" lengthAdjust="spacingAndGlyphs">20 GPa</text>
<path d="M167.30 344.10L178.50 356.60" stroke="#444" stroke-width="0.6" fill="none"/>
<path d="M147.50 352.60L158.70 365.60" stroke="#444" stroke-width="0.6" fill="none"/>
<text x="394.05" y="27.50" font-size="10.0" textLength="34.30" lengthAdjust="spacingAndGlyphs">NdGaO</text><text x="427.95" y="29.30" font-size="6.8" textLength="4.40" lengthAdjust="spacingAndGlyphs">3</text>
<text x="398.55" y="38.90" font-size="10.0" textLength="28.80" lengthAdjust="spacingAndGlyphs">+0.6%</text>
<text x="333.25" y="77.60" font-size="10.6" textLength="46.50" lengthAdjust="spacingAndGlyphs"><tspan font-style="italic">P</tspan> = 0 GPa</text>
<path d="M340.60 81.20L323.40 95.80" stroke="#444" stroke-width="0.6" fill="none"/>
<text x="342.35" y="97.20" font-size="10.6" textLength="27.80" lengthAdjust="spacingAndGlyphs">1 GPa</text>
<path d="M343.60 99.10L328.40 111.20" stroke="#444" stroke-width="0.6" fill="none"/>
<text x="375.60" y="111.90" font-size="10.2" font-style="italic">T</text><text x="381.35" y="113.70" font-size="6.8" textLength="11.80" lengthAdjust="spacingAndGlyphs">DW</text>
<path d="M379.50 115.30V123.60" stroke="#111" stroke-width="0.9" fill="none"/><path d="M377.60 123.10L381.40 123.10L379.50 126.70Z" fill="#111"/>
<path d="M377.40 120.90V128.90" stroke="#111" stroke-width="0.9" fill="none"/><path d="M375.50 128.40L379.30 128.40L377.40 132.00Z" fill="#111"/>
<path d="M374.50 132.20V140.50" stroke="#111" stroke-width="0.9" fill="none"/><path d="M372.60 140.00L376.40 140.00L374.50 143.60Z" fill="#111"/>
<text x="319.75" y="128.40" font-size="10.6" textLength="28.60" lengthAdjust="spacingAndGlyphs">4 GPa</text>
<text x="319.75" y="161.10" font-size="10.6" textLength="28.60" lengthAdjust="spacingAndGlyphs">8 GPa</text>
<text x="397.55" y="239.50" font-size="10.0" textLength="33.70" lengthAdjust="spacingAndGlyphs">NdGaO</text><text x="430.85" y="241.30" font-size="6.8" textLength="4.40" lengthAdjust="spacingAndGlyphs">3</text>
<text x="401.55" y="250.80" font-size="10.0" textLength="29.30" lengthAdjust="spacingAndGlyphs">+0.6%</text>
<text x="403.15" y="319.40" font-size="10.6" textLength="34.30" lengthAdjust="spacingAndGlyphs">12 GPa</text>
<text x="347.35" y="339.60" font-size="10.6" textLength="33.60" lengthAdjust="spacingAndGlyphs">16 GPa</text>
<text x="402.55" y="353.10" font-size="10.6" textLength="34.30" lengthAdjust="spacingAndGlyphs">20 GPa</text>
<text x="636.15" y="27.10" font-size="10.0" textLength="27.70" lengthAdjust="spacingAndGlyphs">LaAlO</text><text x="663.45" y="28.90" font-size="6.8" textLength="4.40" lengthAdjust="spacingAndGlyphs">3</text>
<text x="637.15" y="38.70" font-size="10.0" textLength="28.70" lengthAdjust="spacingAndGlyphs">−0.5%</text>
<text x="562.55" y="61.90" font-size="10.6" textLength="46.70" lengthAdjust="spacingAndGlyphs"><tspan font-style="italic">P</tspan> = 0 GPa</text>
<path d="M572.00 65.20L548.00 84.00" stroke="#444" stroke-width="0.6" fill="none"/>
<text x="576.75" y="79.20" font-size="10.6" textLength="27.10" lengthAdjust="spacingAndGlyphs">1 GPa</text>
<path d="M579.80 81.40L556.40 99.60" stroke="#444" stroke-width="0.6" fill="none"/>
<text x="600.20" y="91.60" font-size="10.2" font-style="italic">T</text><text x="606.05" y="93.90" font-size="6.8" textLength="11.20" lengthAdjust="spacingAndGlyphs">DW</text>
<path d="M602.10 94.20V102.40" stroke="#111" stroke-width="0.9" fill="none"/><path d="M600.80 101.90L603.40 101.90L602.10 104.90Z" fill="#111"/>
<path d="M599.6 102.4H602.1" stroke="#111" stroke-width="0.8"/>
<path d="M599.60 102.40V110.30" stroke="#111" stroke-width="0.9" fill="none"/><path d="M597.90 109.80L601.30 109.80L599.60 113.40Z" fill="#111"/>
<text x="641.15" y="128.40" font-size="10.6" textLength="28.70" lengthAdjust="spacingAndGlyphs">4 GPa</text>
<text x="641.15" y="143.70" font-size="10.6" textLength="28.70" lengthAdjust="spacingAndGlyphs">8 GPa</text>
<text x="635.75" y="157.20" font-size="10.6" textLength="34.10" lengthAdjust="spacingAndGlyphs">12 GPa</text>
<text x="636.15" y="239.50" font-size="10.0" textLength="27.70" lengthAdjust="spacingAndGlyphs">LaAlO</text><text x="663.45" y="241.30" font-size="6.8" textLength="4.60" lengthAdjust="spacingAndGlyphs">3</text>
<text x="637.15" y="250.80" font-size="10.0" textLength="28.70" lengthAdjust="spacingAndGlyphs">−0.5%</text>
<text x="636.15" y="266.40" font-size="10.6" textLength="33.70" lengthAdjust="spacingAndGlyphs">16 GPa</text>
<text x="635.75" y="312.10" font-size="10.6" textLength="34.10" lengthAdjust="spacingAndGlyphs">20 GPa</text>
<text transform="translate(17.50 92.80) rotate(-90)" text-anchor="middle" font-size="10.7" textLength="77" lengthAdjust="spacingAndGlyphs"><tspan font-style="italic">ρ</tspan><tspan font-size="7.5" dy="2">xx</tspan><tspan dy="-2"> / </tspan><tspan font-style="italic">ρ</tspan><tspan font-size="7.5" dy="2">xx</tspan><tspan dy="-2"> (280 K)</tspan></text>
<text transform="translate(17.50 305.70) rotate(-90)" text-anchor="middle" font-size="10.7" textLength="94" lengthAdjust="spacingAndGlyphs">Resistivity (mΩ·cm)</text>
<text transform="translate(254.50 93.00) rotate(-90)" text-anchor="middle" font-size="10.7" textLength="94.8" lengthAdjust="spacingAndGlyphs">Resistivity (mΩ·cm)</text>
<text transform="translate(254.70 305.90) rotate(-90)" text-anchor="middle" font-size="10.7" textLength="94" lengthAdjust="spacingAndGlyphs">Resistivity (mΩ·cm)</text>
<text transform="translate(488.70 93.00) rotate(-90)" text-anchor="middle" font-size="10.7" textLength="94.8" lengthAdjust="spacingAndGlyphs">Resistivity (mΩ.cm)</text>
<text transform="translate(487.90 305.70) rotate(-90)" text-anchor="middle" font-size="10.7" textLength="94" lengthAdjust="spacingAndGlyphs">Resistivity (mΩ·cm)</text>
<text x="1.0" y="9.0" font-size="14.6" font-weight="bold" fill="#000">a</text>
<text x="3.6" y="225.4" font-size="14.6" font-weight="bold" fill="#000">b</text>
<text x="232.7" y="9.0" font-size="14.6" font-weight="bold" fill="#000">c</text>
<text x="235.1" y="224.7" font-size="14.6" font-weight="bold" fill="#000">d</text>
<text x="468.3" y="9.2" font-size="14.6" font-weight="bold" fill="#000">e</text>
<text x="470.7" y="224.7" font-size="14.6" font-weight="bold" fill="#000">f</text>
</svg></body></html>
